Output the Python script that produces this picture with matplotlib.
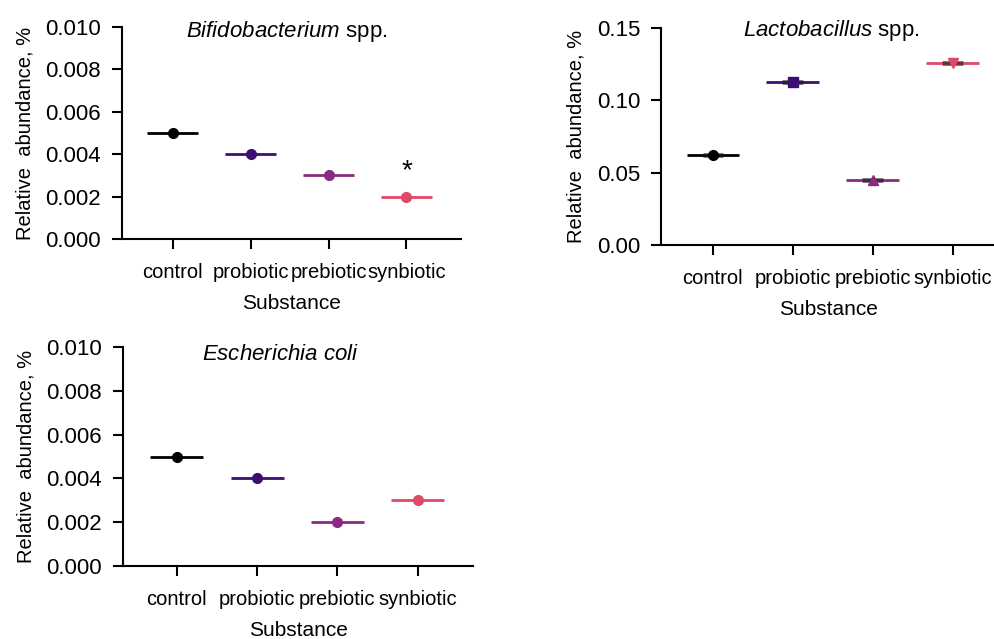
import matplotlib
matplotlib.use("Agg")
import matplotlib.pyplot as plt

plt.rcParams['font.family'] = ['Liberation Sans', 'DejaVu Sans']
plt.rcParams['font.size'] = 15
plt.rcParams['mathtext.fontset'] = 'custom'
plt.rcParams['mathtext.rm'] = 'Liberation Sans'
plt.rcParams['mathtext.it'] = 'Liberation Sans:italic'

groups = ['control', 'probiotic', 'prebiotic', 'synbiotic']
colors = ['#000000', '#3b0f70', '#8c2981', '#de4968']

bifido = [0.005, 0.004, 0.003, 0.002]
lacto = [0.062, 0.113, 0.045, 0.126]
ecoli = [0.005, 0.004, 0.002, 0.003]

round_marks = ['o', 'o', 'o', 'o']
lacto_marks = ['o', 's', '^', 'v']


def panel(ax, vals, marks, title, tx, ty, ymax, yticks, yfmt, xlim, inner=False):
    for i, (v, c, m) in enumerate(zip(vals, colors, marks)):
        ax.plot([i - 0.33, i + 0.33], [v, v], color=c, lw=2, solid_capstyle='butt', zorder=2)
        if inner:
            # small spread around the median
            ax.plot([i - 0.13, i + 0.13], [v, v], color='#1a1a1a', lw=3.5,
                    alpha=0.6, solid_capstyle='butt', zorder=2)
        ax.plot(i, v, marker=m, color=c, ms=7, zorder=3)
    ax.set_xlim(*xlim)
    ax.set_ylim(0, ymax)
    ax.set_yticks(yticks)
    ax.set_yticklabels([yfmt.format(t) for t in yticks], fontsize=16)
    ax.set_xticks(range(len(groups)))
    ax.set_xticklabels(groups, fontsize=14.5)
    ax.spines['top'].set_visible(False)
    ax.spines['right'].set_visible(False)
    ax.spines['left'].set_linewidth(1.5)
    ax.spines['bottom'].set_linewidth(1.5)
    ax.tick_params(axis='both', width=1.5, length=7)
    ax.tick_params(axis='y', pad=8)
    ax.tick_params(axis='x', pad=10)
    ax.set_ylabel('Relative  abundance, %', labelpad=8, fontsize=14.5)
    ax.set_xlabel('Substance', labelpad=9, fontsize=15)
    ax.text(tx, ty, title, transform=ax.transAxes, ha='center', va='baseline', fontsize=16)


fig = plt.figure(figsize=(9.95, 6.39), dpi=100)

ax1 = fig.add_axes([0.1226, 0.626, 0.3407, 0.3318])
panel(ax1, bifido, round_marks, r'$\it{Bifidobacterium}$ spp.', 0.487, 0.953,
      0.010, [0, 0.002, 0.004, 0.006, 0.008, 0.010], '{:.3f}', (-0.65, 3.7))
ax1.text(3, 0.0026, '*', ha='center', va='bottom', fontsize=20)

ax2 = fig.add_axes([0.6643, 0.6166, 0.3357, 0.3396])
panel(ax2, lacto, lacto_marks, r'$\it{Lactobacillus}$ spp.', 0.509, 0.963,
      0.15, [0, 0.05, 0.10, 0.15], '{:.2f}', (-0.65, 3.53), inner=True)

ax3 = fig.add_axes([0.1236, 0.1142, 0.3518, 0.3428])
panel(ax3, ecoli, round_marks, r'$\it{Escherichia\ coli}$', 0.449, 0.94,
      0.010, [0, 0.002, 0.004, 0.006, 0.008, 0.010], '{:.3f}', (-0.67, 3.69))

fig.savefig('out.png', dpi=100)
